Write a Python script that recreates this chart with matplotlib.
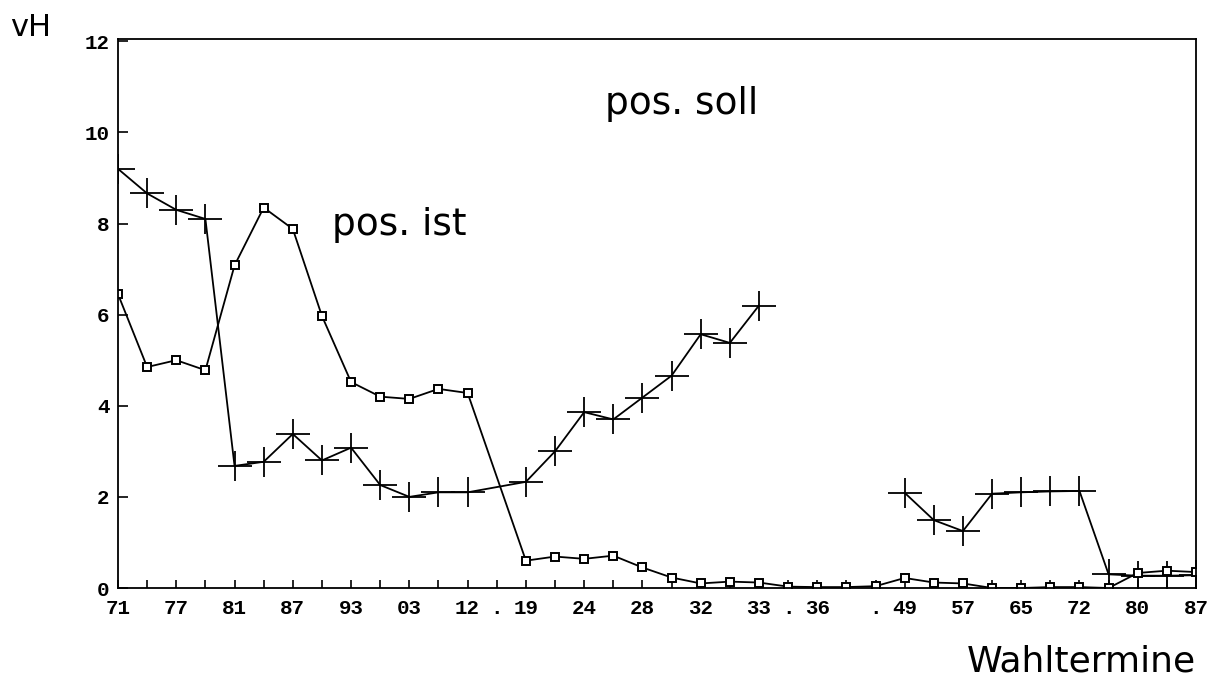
import numpy as np
import matplotlib
matplotlib.use("Agg")
import matplotlib.pyplot as plt
from matplotlib.path import Path

# Wahltermine as index positions on the x axis (gaps carry "." labels)
tick_pos = list(range(38))
tick_text = {0: "71", 2: "77", 4: "81", 6: "87", 8: "93", 10: "03", 12: "12",
             13: ".", 14: "19", 16: "24", 18: "28", 20: "32", 22: "33", 23: ".",
             24: "36", 26: ".", 27: "49", 29: "57", 31: "65", 33: "72", 35: "80",
             37: "87"}

# pos. ist (squares)
ist_idx = list(range(0, 13)) + list(range(14, 38))
ist_vals = [6.45, 4.85, 5.0, 4.78, 7.08, 8.35, 7.88, 5.97, 4.52, 4.2, 4.15, 4.37, 4.28,
            0.6, 0.69, 0.64, 0.71, 0.45, 0.23, 0.1, 0.14, 0.12, 0.03, 0.02, 0.02, 0.04,
            0.22, 0.12, 0.1, 0.0, 0.0, 0.02, 0.02, 0.0, 0.33, 0.38, 0.35]

# pos. soll (crosses), NaN marks the break in the line
soll_idx = list(range(0, 13)) + list(range(14, 23)) + [24] + list(range(27, 38))
soll_vals = [9.2, 8.66, 8.3, 8.1, 2.68, 2.77, 3.38, 2.8, 3.08, 2.26, 2.0, 2.1, 2.1,
             2.33, 3.0, 3.86, 3.7, 4.18, 4.66, 5.57, 5.38, 6.2,
             np.nan,
             2.09, 1.49, 1.25, 2.07, 2.1, 2.12, 2.13, 0.3, 0.27, 0.27, 0.28]

cross = Path([(-1, 0), (1, 0), (0, -0.85), (0, 0.85)],
             [Path.MOVETO, Path.LINETO, Path.MOVETO, Path.LINETO])

fig = plt.figure(figsize=(12.21, 6.83), dpi=100)
ax = fig.add_axes([118 / 1221, 1 - 588 / 683, (1196 - 118) / 1221, (588 - 39) / 683])

ax.plot(soll_idx, soll_vals, color="black", linewidth=1.3, marker=cross,
        markersize=25, markeredgewidth=1.3)
ax.plot(ist_idx, ist_vals, color="black", linewidth=1.3, marker="s",
        markersize=6, markerfacecolor="white", markeredgecolor="black",
        markeredgewidth=1.4)

ax.set_xlim(0, 37)
ax.set_ylim(0, 12.05)
ax.set_xticks(tick_pos)
ax.set_xticklabels([tick_text.get(i, "") for i in tick_pos])
ax.set_yticks([0, 2, 4, 6, 8, 10, 12])
ax.set_yticklabels(["0", "2", "4", "6", "8", "10", "12"])

for lab in ax.get_xticklabels() + ax.get_yticklabels():
    lab.set_family("Liberation Mono")
    lab.set_fontweight("bold")
    lab.set_fontsize(15)

ax.tick_params(axis="x", direction="in", length=6, width=1.2, pad=8)
ax.tick_params(axis="y", direction="in", length=7, width=1.2, pad=6)
for sp in ax.spines.values():
    sp.set_linewidth(1.3)

ax.text(16.7, 10.4, "pos. soll", fontsize=27, family="DejaVu Sans", va="baseline")
ax.text(7.35, 7.75, "pos. ist", fontsize=27, family="DejaVu Sans", va="baseline")

fig.text(10 / 1221, 1 - 36 / 683, "vH", fontsize=22, family="DejaVu Sans", va="baseline")
fig.text(1196 / 1221, 4 / 683, "Wahltermine", fontsize=26,
         family="DejaVu Sans", ha="right", va="bottom")

fig.savefig("out.png", dpi=100)
plt.close(fig)
